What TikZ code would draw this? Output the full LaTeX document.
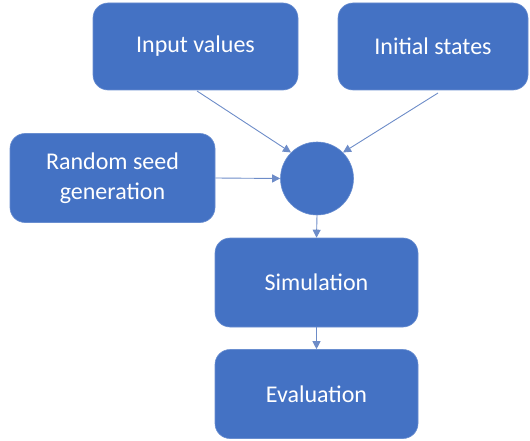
\documentclass[tikz,border=0pt]{standalone}
\usepackage{fontspec}
\setmainfont{Carlito}
\usetikzlibrary{arrows.meta}
\definecolor{boxblue}{HTML}{4472C4}
\definecolor{arrowblue}{HTML}{6D8CC8}
\begin{document}
\begin{tikzpicture}[x=1pt,y=-1pt,
  box/.style={draw=boxblue!80!white, line width=0.6pt, fill=boxblue, rounded corners=15pt, text=white,
    font=\fontsize{24}{29.5}\selectfont, align=center, inner sep=0pt},
  conn/.style={draw=arrowblue, line width=0.9pt, -{Triangle[length=8pt,width=8pt]}}]
\useasboundingbox (0,0) rectangle (530,441);
\node[box, minimum width=205pt, minimum height=87pt] (input) at (195.5,46.5) {Input values};
\node[box, minimum width=190pt, minimum height=87pt] (init) at (433,46.5) {Initial states};
\node[box, minimum width=205pt, minimum height=89pt] (seed) at (112.5,178) {Random seed\\generation};
\node[circle, fill=boxblue, draw=boxblue!80!white, line width=0.6pt, minimum size=73pt, inner sep=0pt] (c) at (317,178.5) {};
\node[box, minimum width=203pt, minimum height=89pt] (sim) at (316.5,282.5) {Simulation};
\node[box, minimum width=203pt, minimum height=89pt] (eval) at (316.5,394) {Evaluation};
\draw[conn] (197,91) -- (c.135);
\draw[conn] (438,93) -- (c.45);
\draw[conn] (seed.east) -- (c.west);
\draw[conn] (c.south) -- (sim.north);
\draw[conn] (sim.south) -- (eval.north);
\end{tikzpicture}
\end{document}
